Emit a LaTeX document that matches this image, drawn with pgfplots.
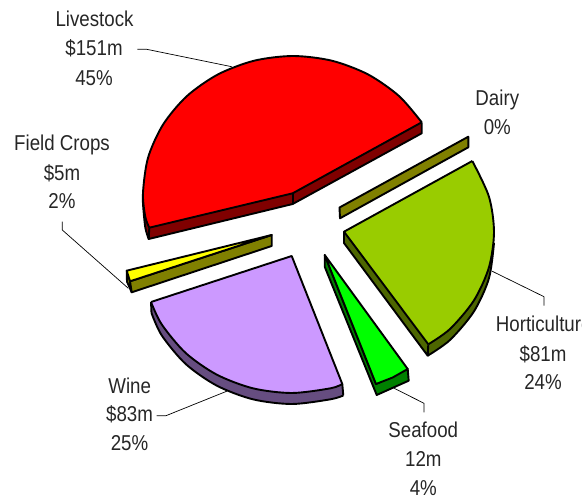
\documentclass[border=0pt]{standalone}
\usepackage{fontspec}
\setmainfont[FakeStretch=0.87]{Liberation Sans}
\usepackage{pgfplots}
\pgfplotsset{compat=1.18}

\definecolor{cred}{HTML}{FF0000}
\definecolor{credside}{HTML}{800000}
\definecolor{chort}{HTML}{99CC00}
\definecolor{chortside}{HTML}{4D6600}
\definecolor{colive}{HTML}{808000}
\definecolor{cyel}{HTML}{FFFF00}
\definecolor{cgreen}{HTML}{00FF00}
\definecolor{cgreenside}{HTML}{008000}
\definecolor{cwine}{HTML}{CC99FF}
\definecolor{cwineside}{HTML}{664D80}

% fill colour, outer arc, rest of the polygon, edge lines (one plot)
\newcommand{\face}[3]{%
  \addplot[fill=#1,draw=none] coordinates {#2 #3} --cycle;
  \addplot[smooth,fill=#1,draw=black] coordinates {#2};
}
\newcommand{\edge}[1]{\addplot[black] coordinates {#1};}
\newcommand{\lead}[1]{\addplot[black,line width=0.7pt] coordinates {#1};}
\newcommand{\lab}[3]{\node[anchor=base,inner sep=0pt] at (axis cs:#1,#2) {#3};}

\begin{document}
\begin{tikzpicture}
\clip (0,0) rectangle (582pt,500pt);
\begin{axis}[
  width=582pt,
  height=500pt,
  scale only axis,
  hide axis,
  xmin=0, xmax=582,
  ymin=0, ymax=500,
  y dir=reverse,
  clip=false,
  every axis plot/.append style={no markers,line width=1.9pt,line join=round},
  nodes={font=\fontsize{21.5}{24}\selectfont,text=black!85},
]

% leader lines
\lead{(137.3,49.3) (146.7,49.3) (231.7,66.7)}
\lead{(62.3,221.7) (62.3,230) (128.3,288.3)}
\lead{(156.7,415.7) (166,415.7) (227.3,391)}
\lead{(424,412.3) (424,403.3) (394.3,388.3)}
\lead{(544,305.7) (544,296.7) (491.7,271)}

% Livestock
\face{credside}{(143,193) (143,204) (145.3,227.5) (148.7,239)}
  {(292.7,204) (421.7,133.3) (421.7,122.3) (292.7,193.3)}
\edge{(421.7,122.3) (421.7,133.3) (292.7,204) (148.7,239) (149.3,227.7)}
\edge{(292.7,193.3) (292.7,204)}
\face{cred}{(421.7,122.3) (399.1,96.1) (368,74.4) (331.8,60.7) (293,56) (254.2,60.7)
  (218,74.4) (186.9,96.1) (163.1,124.5) (148.1,157.5) (143,193) (145.3,216.8) (149.3,227.7)}
  {(292.7,193.3)}
\edge{(421.7,122.3) (292.7,193.3) (149.3,227.7)}

% Dairy
\addplot[fill=colive,draw=black] coordinates
  {(339.5,207.5) (468.3,136.7) (468.3,147.3) (340,218.3)} --cycle;

% Horticulture
\face{chortside}{(494,243) (488.9,278.5) (473.9,311.5) (450.1,339.9) (427.7,355.7)}
  {(344,243) (344,232) (494,232)}
\edge{(428.3,344.3) (427.7,355.7) (344,243) (344,231.7)}
\face{chort}{(472.3,161) (488.9,196.5) (494,232) (488.9,267.5) (473.9,300.5) (450.1,328.9) (428.3,344.3)}
  {(344,231.7)}
\edge{(472.3,161) (344,231.7) (428.3,344.3)}

% Seafood
\addplot[fill=cgreenside,draw=black] coordinates
  {(324.7,255) (324.7,266.7) (376.7,395) (408.7,380.7) (407.7,369) (376,384)} --cycle;
\addplot[fill=cgreen,draw=black] coordinates
  {(324.7,255) (407.7,369) (392.7,377.5) (376,384)} --cycle;

% Wine
\face{cwineside}{(151.5,313) (161.8,335.5) (185.6,363.9) (216.7,385.6) (252.9,399.3)
  (291.7,404) (330.5,399.3) (343.3,395.5)}
  {(342.3,384) (151,302)}
\edge{(151,302) (151.5,313)}
\edge{(342.3,384) (343.3,395.5)}
\face{cwine}{(151,302) (161.8,324.5) (185.6,352.9) (216.7,374.6) (252.9,388.3)
  (291.7,393) (330.5,388.3) (342.3,384)}
  {(291.7,256)}
\edge{(151,302) (291.7,256) (342.3,384)}

% Field Crops
\addplot[fill=colive,draw=black] coordinates
  {(126.7,270.7) (127,281.7) (131.7,292.3) (130,281.3)} --cycle;
\addplot[fill=colive,draw=black] coordinates
  {(130,281.3) (271.7,235) (271.7,246) (131.7,292.3)} --cycle;
\addplot[fill=cyel,draw=black] coordinates
  {(126.7,270.7) (271.7,235) (130,281.3)} --cycle;

% labels
\lab{94.5}{26.7}{Livestock}
\lab{94}{56}{\$151m}
\lab{94}{85.7}{45\%}
\lab{62}{151}{Field Crops}
\lab{62}{180.7}{\$5m}
\lab{62}{208.3}{2\%}
\lab{129.7}{394}{Wine}
\lab{129.5}{421.7}{\$83m}
\lab{129.5}{451}{25\%}
\lab{423.3}{437.3}{Seafood}
\lab{423.3}{466.7}{12m}
\lab{423.3}{495.7}{4\%}
\node[anchor=base west,inner sep=0pt] at (axis cs:495.7,331.7) {Horticulture};
\lab{543}{361.7}{\$81m}
\lab{543}{390}{24\%}
\lab{497.3}{105.7}{Dairy}
\lab{497.3}{135}{0\%}

\end{axis}
\end{tikzpicture}
\end{document}
